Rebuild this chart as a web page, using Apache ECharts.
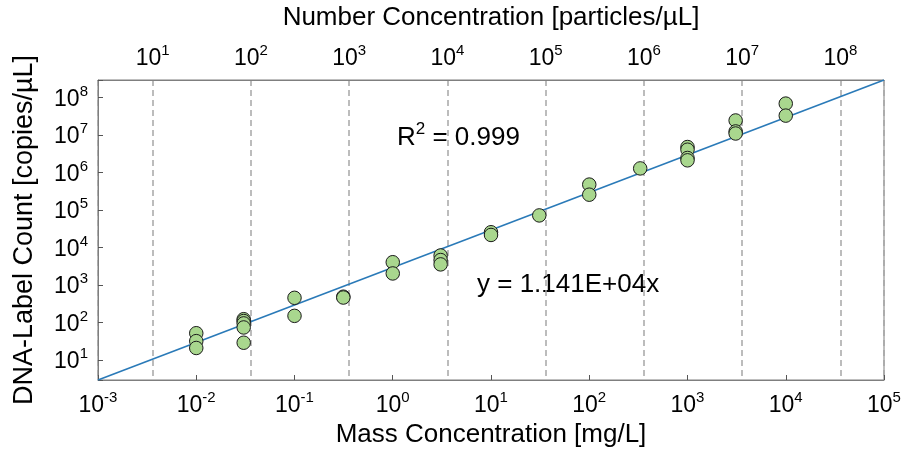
<!DOCTYPE html>
<html><head><meta charset="utf-8">
<script src="https://cdn.jsdelivr.net/npm/echarts@6/dist/echarts.min.js"></script>
<style>html,body{margin:0;padding:0;background:#fff}#c{width:906px;height:453px}</style>
</head><body><div id="c"></div>
<script>
// Measured points: mass concentration [mg/L] vs DNA-label count [copies/µL]
const massConc = [0.01,0.01,0.01, 0.0304,0.0304,0.0304,0.0304,0.0304, 0.1,0.1, 0.314,0.314, 1,1, 3.07,3.07,3.07, 10,10, 31, 100,100, 330, 1000,1000,1000,1000, 3090,3090,3090, 10000,10000];
const labelCount = [52,32,21, 123,110,95,74,29, 457,151, 490,465, 4070,2040, 6150,4650,3560, 25600,21700, 72000, 478000,257000, 1290000, 4800000,4070000,2450000,2120000, 24500000,12500000,11000000, 69000000,33000000];
// Trend line as drawn (corner to corner of the plot)
const fitX = [0.001, 100000];
const fitY = [2.94, 294000000];
// Axis ranges
const massRange = [0.001, 100000];
const numberRange = [2.773, 277300000];
const countRange = [2.94, 294000000];
const eqText = 'y = 1.141E+04x';
const r2Value = '0.999';

const FONT = '"Liberation Sans", Arial, sans-serif';
function powLabel(v){
  const l = Math.log10(v), n = Math.round(l);
  if (Math.abs(l - n) > 1e-6) return '';
  return '{b|10}{s|' + n + '}';
}
const rich = {
  b:{fontSize:23, fontFamily:FONT, color:'#000', lineHeight:27, verticalAlign:'bottom'},
  s:{fontSize:15, fontFamily:FONT, color:'#000', lineHeight:27, verticalAlign:'top', padding:[0,0,0,0]}
};
const chart = echarts.init(document.getElementById('c'), null, {renderer:'canvas'});
chart.setOption({
  animation:false,
  backgroundColor:'#fff',
  grid:{left:98, right:22, top:80, bottom:72, show:true, borderColor:'#7f7f7f', borderWidth:1, containLabel:false},
  xAxis:[{
    type:'log', position:'bottom', min:massRange[0], max:massRange[1], splitNumber:8,
    name:'Mass Concentration [mg/L]', nameLocation:'middle', nameGap:42,
    nameTextStyle:{fontSize:26, fontFamily:FONT, color:'#000'},
    axisLine:{show:true, lineStyle:{color:'#7f7f7f', width:1}},
    axisTick:{show:true, inside:true, length:5, lineStyle:{color:'#555'}},
    minorTick:{show:false}, splitLine:{show:false},
    axisLabel:{formatter:powLabel, rich:rich, margin:10, showMinLabel:true, showMaxLabel:true}
  },{
    type:'log', position:'top', min:numberRange[0], max:numberRange[1], splitNumber:8,
    name:'Number Concentration [particles/µL]', nameLocation:'middle', nameGap:49,
    nameTextStyle:{fontSize:26, fontFamily:FONT, color:'#000'},
    axisLine:{show:true, lineStyle:{color:'#7f7f7f', width:1}},
    axisTick:{show:false},
    splitLine:{show:true, lineStyle:{color:'#a6a6a6', width:1.5, type:[6,4]}},
    axisLabel:{formatter:powLabel, rich:rich, margin:10}
  }],
  yAxis:[{
    type:'log', min:countRange[0], max:countRange[1], splitNumber:8,
    name:'DNA-Label Count [copies/µL]', nameLocation:'middle', nameGap:60,
    nameTextStyle:{fontSize:27, fontFamily:FONT, color:'#000'},
    axisLine:{show:true, lineStyle:{color:'#7f7f7f', width:1}},
    axisTick:{show:true, inside:true, length:5, lineStyle:{color:'#555'}},
    splitLine:{show:false},
    axisLabel:{formatter:powLabel, rich:rich, margin:10}
  }],
  series:[{
    type:'line', xAxisIndex:0, yAxisIndex:0,
    data:fitX.map((x,i)=>[x, fitY[i]]),
    symbol:'none', lineStyle:{color:'#2a7ab8', width:1.6}, z:2, silent:true
  },{
    type:'scatter', xAxisIndex:0, yAxisIndex:0,
    data:massConc.map((x,i)=>[x, labelCount[i]]),
    symbol:'circle', symbolSize:13.5,
    itemStyle:{color:'#a9d78e', borderColor:'#1a1a1a', borderWidth:1, opacity:1}, z:3
  }],
  graphic:[
    {type:'text', left:397, top:121, style:{text:'{b|R}{s|2}{b| = ' + r2Value + '}', rich:{
      b:{fontSize:26, fontFamily:FONT, fill:'#000', lineHeight:30, verticalAlign:'bottom'},
      s:{fontSize:17, fontFamily:FONT, fill:'#000', lineHeight:30, verticalAlign:'top'}}}},
    {type:'text', left:477, top:272, style:{text:eqText, font:'26px ' + FONT, fill:'#000'}}
  ]
});
</script></body></html>
